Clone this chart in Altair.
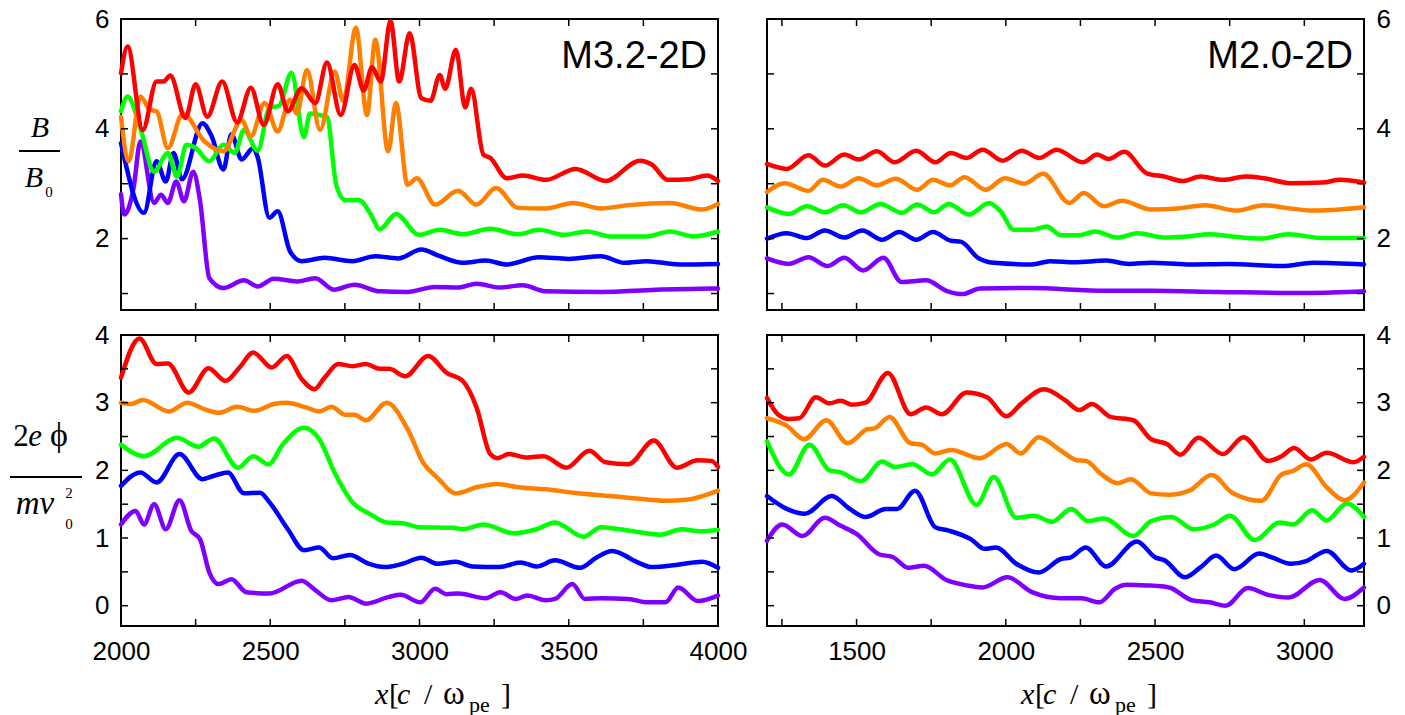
import altair as alt
import pandas as pd

SERIES = ["purple", "blue", "green", "orange", "red"]
COLORS = {"red": "#ff0000", "orange": "#ff8000", "green": "#00ff00",
          "blue": "#0000ff", "purple": "#8000ff"}

# ---------------- Top-left: B/B0, M3.2-2D ----------------
tl_red_x = [2000, 2022, 2073, 2119, 2142, 2165, 2216, 2250, 2289, 2339, 2389, 2435, 2478, 2525, 2559, 2605,
            2651, 2690, 2736, 2782, 2813, 2841, 2870, 2903, 2932, 2967, 3006, 3037, 3068, 3086, 3122, 3153,
            3173, 3214, 3237, 3292, 3346, 3423, 3523, 3623, 3739, 3778, 3832, 3901, 3963, 4000]
tl_red_y = [5.01, 5.5, 3.98, 4.86, 4.86, 4.97, 4.2, 4.81, 4.22, 4.86, 4.12, 4.75, 4.07, 4.81, 4.32, 4.74,
            4.47, 5.21, 4.25, 5.16, 4.7, 5.12, 4.86, 5.96, 4.86, 5.74, 4.56, 4.51, 4.98, 4.73, 5.44, 4.39,
            4.73, 3.53, 3.47, 3.1, 3.15, 3.07, 3.27, 3.05, 3.42, 3.35, 3.07, 3.08, 3.15, 3.05]
tl_orange_x = [2000, 2026, 2065, 2096, 2119, 2157, 2207, 2280, 2343, 2404, 2435, 2481, 2525, 2566, 2589, 2623,
               2667, 2716, 2745, 2787, 2824, 2852, 2895, 2921, 2960, 2991, 3052, 3129, 3191, 3256, 3330, 3423,
               3515, 3608, 3700, 3839, 3947, 4000]
tl_orange_y = [4.22, 3.41, 4.59, 4.35, 4.32, 3.65, 4.28, 3.77, 3.59, 4.16, 3.86, 4.47, 3.95, 4.53, 4.28, 5.07,
               3.98, 5.04, 4.5, 5.84, 4.25, 5.62, 3.59, 4.47, 2.98, 3.1, 2.62, 2.87, 2.62, 2.92, 2.56, 2.55,
               2.65, 2.55, 2.61, 2.65, 2.53, 2.63]
tl_green_x = [2000, 2022, 2065, 2111, 2157, 2188, 2219, 2250, 2296, 2343, 2381, 2412, 2458, 2497, 2530, 2571,
              2613, 2633, 2667, 2690, 2721, 2752, 2798, 2836, 2867, 2921, 2998, 3068, 3145, 3237, 3330, 3400,
              3484, 3561, 3639, 3762, 3839, 3917, 4000]
tl_green_y = [4.32, 4.59, 4.01, 3.22, 3.56, 3.13, 3.71, 3.65, 3.41, 3.71, 3.56, 3.98, 3.6, 4.38, 4.42, 5.02,
              3.85, 4.28, 4.25, 4.22, 2.98, 2.7, 2.7, 2.45, 2.17, 2.45, 2.07, 2.16, 2.08, 2.18, 2.08, 2.16,
              2.07, 2.13, 2.04, 2.04, 2.13, 2.04, 2.13]
tl_blue_x = [2000, 2077, 2119, 2150, 2176, 2204, 2273, 2304, 2343, 2370, 2404, 2443, 2458, 2497, 2525, 2566,
             2605, 2682, 2775, 2852, 2929, 3006, 3068, 3145, 3222, 3292, 3400, 3500, 3608, 3685, 3762, 3870, 4000]
tl_blue_y = [3.74, 2.47, 3.41, 3.04, 3.56, 3.08, 4.1, 3.86, 3.26, 3.9, 3.44, 3.65, 3.48, 2.38, 2.5, 1.77,
             1.59, 1.65, 1.59, 1.68, 1.64, 1.8, 1.68, 1.56, 1.6, 1.53, 1.66, 1.63, 1.68, 1.56, 1.59, 1.53, 1.54]
tl_purple_x = [2000, 2011, 2042, 2065, 2111, 2134, 2157, 2185, 2211, 2242, 2265, 2296, 2343, 2412, 2458, 2512,
               2589, 2651, 2713, 2782, 2867, 2960, 3052, 3129, 3191, 3268, 3346, 3423, 3608, 3793, 4000]
tl_purple_y = [2.81, 2.44, 2.92, 3.77, 2.65, 2.8, 2.65, 3.04, 2.68, 3.22, 2.68, 1.28, 1.1, 1.24, 1.13, 1.27,
               1.22, 1.28, 1.07, 1.16, 1.04, 1.03, 1.12, 1.11, 1.18, 1.11, 1.15, 1.04, 1.03, 1.07, 1.09]

# ---------------- Top-right: B/B0, M2.0-2D ----------------
tr_red_x = [1200, 1266, 1339, 1394, 1459, 1507, 1568, 1628, 1700, 1764, 1816, 1869, 1922, 1990, 2053, 2113,
            2170, 2258, 2306, 2344, 2397, 2472, 2532, 2592, 2653, 2728, 2803, 2864, 2954, 3060, 3120, 3200]
tr_red_y = [3.36, 3.27, 3.52, 3.33, 3.53, 3.44, 3.59, 3.39, 3.6, 3.39, 3.56, 3.47, 3.62, 3.42, 3.6, 3.47,
            3.62, 3.39, 3.53, 3.45, 3.58, 3.19, 3.13, 3.05, 3.13, 3.07, 3.13, 3.1, 3.01, 3.02, 3.07, 3.02]
tr_orange_x = [1200, 1259, 1339, 1387, 1447, 1507, 1568, 1631, 1703, 1756, 1813, 1862, 1932, 1997, 2062, 2125,
               2213, 2261, 2329, 2389, 2487, 2577, 2668, 2773, 2864, 2939, 3030, 3120, 3200]
tr_orange_y = [2.85, 3.01, 2.87, 3.07, 2.95, 3.1, 2.97, 3.09, 2.89, 3.07, 2.97, 3.12, 2.89, 3.1, 3.0, 3.18,
               2.65, 2.83, 2.59, 2.69, 2.53, 2.55, 2.61, 2.51, 2.61, 2.56, 2.51, 2.53, 2.57]
tr_green_x = [1200, 1274, 1334, 1394, 1455, 1515, 1580, 1651, 1703, 1760, 1809, 1877, 1944, 1982, 2027, 2088,
              2137, 2185, 2246, 2299, 2374, 2442, 2532, 2607, 2683, 2758, 2856, 2947, 3060, 3200]
tr_green_y = [2.57, 2.45, 2.59, 2.48, 2.61, 2.48, 2.63, 2.47, 2.62, 2.48, 2.63, 2.44, 2.65, 2.5, 2.16, 2.16,
              2.22, 2.06, 2.06, 2.13, 2.02, 2.1, 2.02, 2.04, 2.08, 2.04, 2.0, 2.08, 2.01, 2.01]
tr_blue_x = [1200, 1266, 1334, 1394, 1459, 1519, 1586, 1643, 1700, 1756, 1816, 1851, 1907, 1960, 2088, 2148,
             2231, 2336, 2412, 2487, 2607, 2743, 2924, 3030, 3200]
tr_blue_y = [2.0, 2.1, 2.01, 2.15, 2.02, 2.15, 1.98, 2.12, 1.98, 2.12, 1.96, 1.94, 1.65, 1.56, 1.53, 1.59,
             1.57, 1.6, 1.54, 1.56, 1.53, 1.54, 1.5, 1.56, 1.53]
tr_purple_x = [1200, 1274, 1339, 1402, 1459, 1522, 1590, 1651, 1733, 1801, 1854, 1914, 2080, 2336, 2487, 2713,
               3014, 3200]
tr_purple_y = [1.64, 1.54, 1.66, 1.5, 1.65, 1.42, 1.65, 1.21, 1.24, 1.05, 0.99, 1.09, 1.1, 1.05, 1.05, 1.03,
               1.01, 1.04]

# ---------------- Bottom-left: 2e phi / m v0^2, M3.2-2D ----------------
bl_red_x = [2000, 2062, 2119, 2157, 2227, 2293, 2350, 2397, 2443, 2505, 2555, 2605, 2648, 2682, 2728, 2775,
            2821, 2867, 2898, 2952, 3029, 3091, 3145, 3191, 3237, 3261, 3299, 3361, 3415, 3492, 3569, 3623,
            3700, 3785, 3862, 3932, 3978, 4000]
bl_red_y = [3.37, 3.95, 3.57, 3.58, 3.15, 3.51, 3.32, 3.52, 3.74, 3.52, 3.69, 3.35, 3.2, 3.37, 3.57, 3.54,
            3.57, 3.5, 3.5, 3.39, 3.69, 3.44, 3.32, 2.93, 2.24, 2.18, 2.24, 2.19, 2.21, 2.04, 2.29, 2.12,
            2.09, 2.44, 2.04, 2.15, 2.14, 2.05]
bl_orange_x = [2000, 2034, 2073, 2160, 2222, 2281, 2330, 2389, 2447, 2512, 2555, 2620, 2664, 2705, 2751, 2782,
               2821, 2890, 2960, 3014, 3060, 3122, 3191, 3261, 3330, 3423, 3515, 3639, 3762, 3824, 3901, 4000]
bl_orange_y = [3.0, 2.98, 3.04, 2.87, 3.0, 2.9, 2.85, 2.94, 2.88, 2.98, 3.0, 2.93, 2.87, 2.94, 2.82, 2.82,
               2.74, 3.0, 2.61, 2.1, 1.89, 1.66, 1.75, 1.8, 1.75, 1.72, 1.67, 1.62, 1.57, 1.55, 1.57, 1.7]
bl_green_x = [2000, 2077, 2188, 2258, 2312, 2392, 2443, 2494, 2543, 2613, 2667, 2713, 2775, 2836, 2890, 2944,
              2998, 3114, 3145, 3214, 3315, 3392, 3454, 3549, 3608, 3670, 3808, 3878, 3940, 4000]
bl_green_y = [2.38, 2.21, 2.48, 2.35, 2.47, 2.04, 2.21, 2.09, 2.39, 2.63, 2.44, 1.99, 1.53, 1.35, 1.23, 1.22,
              1.16, 1.15, 1.13, 1.2, 1.07, 1.13, 1.23, 1.02, 1.16, 1.13, 1.05, 1.13, 1.1, 1.12]
bl_blue_x = [2000, 2065, 2119, 2196, 2273, 2312, 2358, 2412, 2466, 2497, 2559, 2613, 2664, 2710, 2767, 2829,
             2883, 2944, 3006, 3060, 3122, 3176, 3268, 3338, 3392, 3454, 3538, 3592, 3646, 3731, 3778, 3870,
             3947, 4000]
bl_blue_y = [1.77, 1.97, 1.82, 2.24, 1.87, 1.92, 1.97, 1.66, 1.67, 1.53, 1.13, 0.82, 0.86, 0.7, 0.75, 0.62,
             0.57, 0.62, 0.71, 0.62, 0.65, 0.58, 0.57, 0.64, 0.58, 0.67, 0.56, 0.71, 0.81, 0.64, 0.57, 0.61,
             0.65, 0.56]
bl_purple_x = [2000, 2049, 2077, 2111, 2150, 2196, 2235, 2265, 2296, 2327, 2370, 2420, 2497, 2605, 2651, 2705,
               2762, 2821, 2898, 2937, 3003, 3052, 3091, 3129, 3222, 3271, 3322, 3361, 3423, 3454, 3512, 3554,
               3608, 3700, 3762, 3824, 3867, 3932, 4000]
bl_purple_y = [1.2, 1.4, 1.2, 1.5, 1.13, 1.56, 1.11, 0.98, 0.49, 0.32, 0.39, 0.2, 0.18, 0.37, 0.23, 0.08,
               0.13, 0.03, 0.13, 0.16, 0.05, 0.25, 0.17, 0.18, 0.11, 0.2, 0.1, 0.15, 0.08, 0.1, 0.32, 0.1,
               0.11, 0.1, 0.05, 0.05, 0.27, 0.07, 0.15]

# ---------------- Bottom-right: 2e phi / m v0^2, M2.0-2D ----------------
br_red_x = [1200, 1236, 1274, 1308, 1364, 1409, 1447, 1485, 1530, 1605, 1681, 1733, 1786, 1869, 1937, 2002,
            2053, 2128, 2201, 2246, 2288, 2351, 2427, 2487, 2540, 2585, 2645, 2728, 2796, 2879, 2924, 2966,
            3022, 3075, 3165, 3200]
br_red_y = [3.07, 2.83, 2.76, 2.77, 3.08, 2.99, 3.03, 2.97, 3.0, 3.44, 2.83, 2.93, 2.83, 3.15, 3.08, 2.8,
            2.99, 3.2, 3.03, 2.89, 2.98, 2.79, 2.74, 2.46, 2.39, 2.23, 2.48, 2.24, 2.49, 2.14, 2.21, 2.33,
            2.16, 2.26, 2.12, 2.2]
br_orange_x = [1200, 1266, 1324, 1399, 1470, 1538, 1560, 1610, 1681, 1718, 1764, 1816, 1914, 2002, 2050, 2110,
               2185, 2238, 2268, 2321, 2374, 2419, 2487, 2547, 2615, 2690, 2758, 2856, 2924, 2962, 3007, 3075,
               3135, 3200]
br_orange_y = [2.77, 2.66, 2.46, 2.74, 2.4, 2.61, 2.62, 2.79, 2.4, 2.38, 2.25, 2.3, 2.18, 2.39, 2.25, 2.49,
               2.29, 2.15, 2.14, 1.94, 1.81, 1.87, 1.66, 1.64, 1.7, 1.93, 1.67, 1.55, 1.94, 1.99, 2.09, 1.75,
               1.56, 1.82]
br_green_x = [1200, 1274, 1342, 1409, 1447, 1515, 1586, 1628, 1688, 1752, 1813, 1902, 1960, 2035, 2095, 2155,
              2219, 2276, 2329, 2427, 2487, 2555, 2630, 2698, 2751, 2834, 2917, 2962, 3026, 3075, 3142, 3200]
br_green_y = [2.43, 1.94, 2.38, 2.0, 1.97, 1.84, 2.13, 2.05, 2.09, 1.94, 2.16, 1.49, 1.9, 1.3, 1.33, 1.24,
              1.43, 1.25, 1.29, 1.03, 1.25, 1.31, 1.13, 1.2, 1.33, 0.97, 1.23, 1.2, 1.41, 1.26, 1.51, 1.31]
br_blue_x = [1200, 1266, 1327, 1417, 1477, 1530, 1598, 1636, 1696, 1764, 1809, 1884, 1929, 1967, 2035, 2110,
             2185, 2216, 2268, 2336, 2439, 2502, 2532, 2600, 2653, 2705, 2766, 2849, 2894, 2954, 3007, 3075,
             3158, 3200]
br_blue_y = [1.62, 1.43, 1.36, 1.62, 1.43, 1.31, 1.43, 1.43, 1.7, 1.16, 1.11, 0.98, 0.84, 0.86, 0.62, 0.49,
             0.69, 0.71, 0.86, 0.58, 0.95, 0.71, 0.67, 0.42, 0.57, 0.74, 0.54, 0.77, 0.71, 0.62, 0.66, 0.81,
             0.52, 0.62]
br_purple_x = [1200, 1251, 1319, 1394, 1447, 1500, 1575, 1621, 1673, 1726, 1801, 1869, 1922, 2005, 2088, 2185,
               2253, 2314, 2366, 2404, 2472, 2547, 2623, 2683, 2736, 2811, 2879, 2947, 3052, 3135, 3200]
br_purple_y = [0.96, 1.2, 1.03, 1.3, 1.18, 1.06, 0.76, 0.72, 0.56, 0.59, 0.38, 0.3, 0.27, 0.42, 0.2, 0.11,
               0.11, 0.05, 0.25, 0.31, 0.3, 0.27, 0.08, 0.05, 0.0, 0.26, 0.16, 0.12, 0.38, 0.1, 0.27]

# axis / tick settings
left_x_domain = [2000, 4000]
right_x_domain = [1200, 3200]
top_y_domain = [0.7, 6]
bottom_y_domain = [-0.3, 4]
left_x_labels = [2000, 2500, 3000, 3500, 4000]
right_x_labels = [1500, 2000, 2500, 3000]
left_x_ticks = [2250, 2500, 2750, 3000, 3250, 3500, 3750]
right_x_ticks = [1250, 1500, 1750, 2000, 2250, 2500, 2750, 3000]
top_y_labels = [2, 4, 6]
top_y_ticks = [1, 2, 3, 4, 5]
bottom_y_labels = [0, 1, 2, 3, 4]
bottom_y_ticks = [0, 0.5, 1, 1.5, 2, 2.5, 3, 3.5]

W, H = 597, 291
TICK = 7
SERIF = "Liberation Serif"
SANS = "Liberation Sans"


def make_axis(values, orient):
    return alt.Axis(values=values, orient=orient, title=None, domain=False, ticks=False, tickSize=0,
                    grid=False, format="d", labelFont=SANS, labelFontSize=26, labelColor="black",
                    labelFlush=False, labelOverlap=False, labelBound=False,
                    labelPadding=12 if orient in ("bottom", "top") else 12)


def one():
    return alt.Data(values=[{"k": 1}])


def text(t, x, y, size=28, italic=False, align="center", font=SERIF):
    kw = dict(text=t, font=font, fontSize=size, align=align, baseline="alphabetic", color="black")
    if italic:
        kw["fontStyle"] = "italic"
    return alt.Chart(one()).mark_text(**kw).encode(x=alt.value(x), y=alt.value(y))


def hline(x1, x2, y):
    return alt.Chart(one()).mark_rule(color="black", strokeWidth=2).encode(
        x=alt.value(x1), x2=alt.value(x2), y=alt.value(y))


def panel(series, xdom, ydom, xaxis, yaxis, xticks, yticks, label, extras):
    xs = alt.Scale(domain=xdom, nice=False, zero=False)
    ys = alt.Scale(domain=ydom, nice=False, zero=False)
    layers = []
    for name in SERIES:
        xv, yv = series[name]
        df = pd.DataFrame({"x": xv, "y": yv})
        layers.append(
            alt.Chart(df).mark_line(color=COLORS[name], strokeWidth=4.5, interpolate="monotone",
                                    strokeJoin="round", strokeCap="round").encode(
                x=alt.X("x:Q", scale=xs, axis=xaxis),
                y=alt.Y("y:Q", scale=ys, axis=yaxis)))
    xt = pd.DataFrame({"x": xticks})
    yt = pd.DataFrame({"y": yticks})
    for y0, y1 in ((H, H - TICK), (0, TICK)):
        layers.append(alt.Chart(xt).mark_rule(color="black", strokeWidth=1.5).encode(
            x=alt.X("x:Q", scale=xs, axis=xaxis), y=alt.value(y0), y2=alt.value(y1)))
    for x0, x1 in ((0, TICK), (W, W - TICK)):
        layers.append(alt.Chart(yt).mark_rule(color="black", strokeWidth=1.5).encode(
            y=alt.Y("y:Q", scale=ys, axis=yaxis), x=alt.value(x0), x2=alt.value(x1)))
    if label:
        layers.append(text(label, W - 11, 49, size=38, align="right", font=SANS))
    layers.extend(extras)
    return alt.layer(*layers).properties(width=W, height=H)


def xtitle():
    base = 369
    return [
        text("x", 254, base, size=30, italic=True, align="left"),
        text("[", 268, base, size=30, align="left"),
        text("c", 276, base, size=30, italic=True, align="left"),
        text("/", 303, base, size=30, align="left"),
        text("ω", 322, base, size=33, align="left"),
        text("pe", 348, base + 8, size=22, align="left"),
        text("]", 380, base, size=30, align="left"),
    ]


tl_extras = [
    text("B", -81, 118, size=30, italic=True),
    hline(-102, -61, 132),
    text("B", -87, 168, size=30, italic=True),
    text("0", -72, 178, size=15),
]
bl_extras = [
    text("2", -100, 111, size=31),
    text("e", -86, 111, size=31, italic=True),
    text("ϕ", -62, 111, size=34),
    hline(-111, -39, 142),
    text("mv", -86, 179, size=33, italic=True),
    text("2", -52, 163, size=15),
    text("0", -52, 194, size=15),
] + xtitle()

tl = panel({"red": (tl_red_x, tl_red_y), "orange": (tl_orange_x, tl_orange_y),
            "green": (tl_green_x, tl_green_y), "blue": (tl_blue_x, tl_blue_y),
            "purple": (tl_purple_x, tl_purple_y)},
           left_x_domain, top_y_domain, None, make_axis(top_y_labels, "left"),
           left_x_ticks, top_y_ticks, "M3.2-2D", tl_extras)
tr = panel({"red": (tr_red_x, tr_red_y), "orange": (tr_orange_x, tr_orange_y),
            "green": (tr_green_x, tr_green_y), "blue": (tr_blue_x, tr_blue_y),
            "purple": (tr_purple_x, tr_purple_y)},
           right_x_domain, top_y_domain, None, make_axis(top_y_labels, "right"),
           right_x_ticks, top_y_ticks, "M2.0-2D", [])
bl = panel({"red": (bl_red_x, bl_red_y), "orange": (bl_orange_x, bl_orange_y),
            "green": (bl_green_x, bl_green_y), "blue": (bl_blue_x, bl_blue_y),
            "purple": (bl_purple_x, bl_purple_y)},
           left_x_domain, bottom_y_domain, make_axis(left_x_labels, "bottom"),
           make_axis(bottom_y_labels, "left"), left_x_ticks, bottom_y_ticks, None, bl_extras)
br = panel({"red": (br_red_x, br_red_y), "orange": (br_orange_x, br_orange_y),
            "green": (br_green_x, br_green_y), "blue": (br_blue_x, br_blue_y),
            "purple": (br_purple_x, br_purple_y)},
           right_x_domain, bottom_y_domain, make_axis(right_x_labels, "bottom"),
           make_axis(bottom_y_labels, "right"), right_x_ticks, bottom_y_ticks, None, xtitle())

chart = alt.concat(tl, tr, bl, br, columns=2, spacing={"row": 25, "column": 49}, bounds="flush").resolve_scale(
    x="independent", y="independent"
).resolve_axis(x="independent", y="independent").properties(
    padding={"left": 8, "top": 5, "right": 2, "bottom": 0},
    background="white",
).configure_view(stroke="black", strokeWidth=2)

chart.save("out.html", embed_options={"renderer": "svg", "actions": False})
